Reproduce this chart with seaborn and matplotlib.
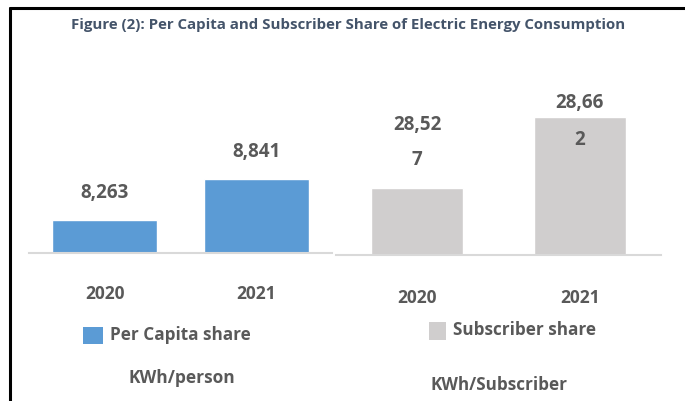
import matplotlib
matplotlib.use("Agg")
import matplotlib.pyplot as plt
import seaborn as sns
import pandas as pd
from matplotlib.patches import Rectangle

years = ["2020", "2021"]
per_capita = [8263, 8841]
subscriber = [28527, 28662]

title = "Figure (2): Per Capita and Subscriber Share of Electric Energy Consumption"
legend_left = "Per Capita share"
legend_right = "Subscriber share"
unit_left = "KWh/person"
unit_right = "KWh/Subscriber"

BLUE = "#5B9BD5"
GREY = "#D0CECE"
TXT = "#595959"

sns.set_theme(style="white")
plt.rcParams["font.family"] = ["Open Sans", "DejaVu Sans"]

W, H = 685, 401
fig = plt.figure(figsize=(W / 100, H / 100), dpi=100)


def px_axes(x0, y0, x1, y1):
    # pixel box (top-left origin) -> figure axes
    return fig.add_axes([x0 / W, 1 - y1 / H, (x1 - x0) / W, (y1 - y0) / H])


def style_axes(ax, ylim):
    ax.set_xlim(-0.5, 1.5)
    ax.set_ylim(*ylim)
    ax.set_facecolor("none")
    for s in ["top", "left", "right"]:
        ax.spines[s].set_visible(False)
    ax.spines["bottom"].set_color("#D9D9D9")
    ax.spines["bottom"].set_linewidth(1.5)
    ax.set_yticks([])
    ax.set_xlabel("")
    ax.set_ylabel("")
    ax.tick_params(axis="x", length=0, pad=23, labelsize=12.5, labelcolor=TXT)
    for t in ax.get_xticklabels():
        t.set_fontweight("bold")


def label(ax, x, y, txt, dy):
    ax.annotate(txt, (x, y), xytext=(0, dy), textcoords="offset pixels",
                ha="center", va="center", fontsize=13.5, fontweight="bold",
                color=TXT)


# left panel
df1 = pd.DataFrame({"year": years, "value": per_capita})
ax1 = px_axes(29, 60, 332, 253)
sns.barplot(data=df1, x="year", y="value", color=BLUE, saturation=1,
            width=0.69, ax=ax1)
style_axes(ax1, (7800, 10520))
for i, v in enumerate(per_capita):
    label(ax1, i, v, f"{v:,}", 27)

# right panel
df2 = pd.DataFrame({"year": years, "value": subscriber})
ax2 = px_axes(336, 60, 661, 254.5)
sns.barplot(data=df2, x="year", y="value", color=GREY, saturation=1,
            width=0.566, ax=ax2)
style_axes(ax2, (28400, 28770))
ax2.tick_params(axis="x", pad=25)
# labels wrap in the original: "28,52" / "7"
offsets = [(63, 28), (14, -23)]
for i, v in enumerate(subscriber):
    s = f"{v:,}"
    label(ax2, i, v, s[:-1], offsets[i][0])
    label(ax2, i, v, s[-1], offsets[i][1])

# title
fig.text(348 / W, 1 - 25 / H, title, ha="center", va="center",
         fontsize=10.8, fontweight="bold", color="#44546A")

# legends
fig.add_artist(Rectangle((83 / W, 1 - 344 / H), 20 / W, 17 / H,
                         transform=fig.transFigure, color=BLUE, lw=0))
fig.text(110 / W, 1 - 335 / H, legend_left, ha="left", va="center",
         fontsize=12.3, fontweight="bold", color=TXT)
fig.text(182 / W, 1 - 378 / H, unit_left, ha="center", va="center",
         fontsize=12.5, fontweight="bold", color=TXT)

fig.add_artist(Rectangle((429 / W, 1 - 340 / H), 17 / W, 18 / H,
                         transform=fig.transFigure, color=GREY, lw=0))
fig.text(453 / W, 1 - 330 / H, legend_right, ha="left", va="center",
         fontsize=12.3, fontweight="bold", color=TXT)
fig.text(430 / W, 1 - 385 / H, unit_right, ha="left", va="center",
         fontsize=12.3, fontweight="bold", color=TXT)

# frame lines of the original crop
fig.add_artist(plt.Line2D([9.5 / W, 1], [1 - 7.5 / H, 1 - 7.5 / H],
                          transform=fig.transFigure, color="black", lw=2.2))
fig.add_artist(plt.Line2D([9.5 / W, 9.5 / W], [0, 1 - 7.5 / H],
                          transform=fig.transFigure, color="black", lw=2.2))

fig.savefig("out.png", dpi=100)
